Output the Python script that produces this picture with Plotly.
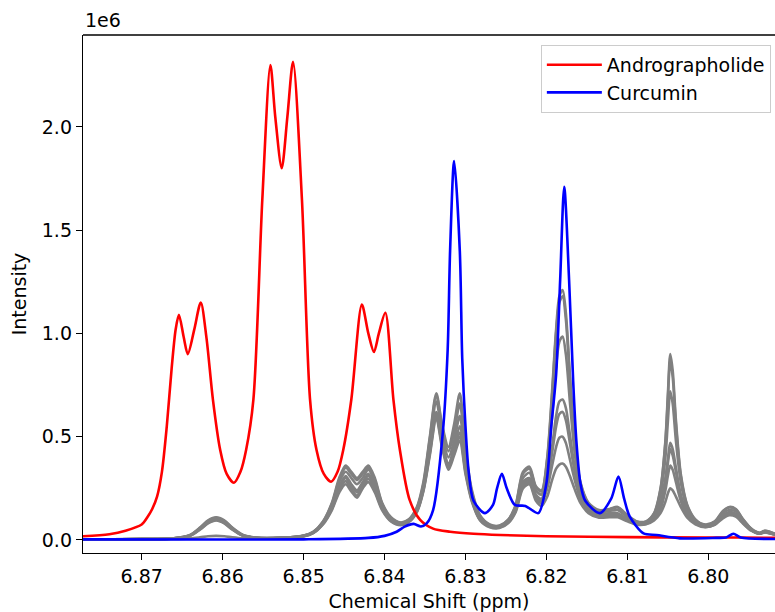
import plotly.graph_objects as go

# ---- Data (intensities in units of 1e6) ----
# Andrographolide (red)
andro_ppm = [6.8773, 6.8740, 6.8720, 6.8700, 6.8693, 6.8687, 6.8681, 6.8675, 6.8669, 6.8663,
             6.8658, 6.8654, 6.8648, 6.8643, 6.8635, 6.8627, 6.8620, 6.8612, 6.8603, 6.8595,
             6.8586, 6.8578, 6.8571, 6.8562, 6.8551, 6.8541, 6.8535, 6.8527, 6.8520, 6.8513,
             6.8502, 6.8492, 6.8484, 6.8475, 6.8466, 6.8458, 6.8451, 6.8441, 6.8428, 6.8420,
             6.8413, 6.8407, 6.8399, 6.8389, 6.8381, 6.8369, 6.8356, 6.8340, 6.8319, 6.8290,
             6.8257, 6.8200, 6.8100, 6.8000, 6.7960, 6.7912]
andro_int = [0.018, 0.028, 0.045, 0.075, 0.11, 0.15, 0.21, 0.33, 0.55, 0.83,
             1.02, 1.09, 0.98, 0.90, 1.02, 1.15, 0.98, 0.68, 0.436, 0.32,
             0.277, 0.33, 0.436, 0.68, 1.646, 2.30, 2.05, 1.80, 2.05, 2.315,
             1.646, 0.68, 0.436, 0.32, 0.282, 0.33, 0.436, 0.68, 1.14, 1.0,
             0.91, 1.0, 1.10, 0.68, 0.436, 0.194, 0.097, 0.055, 0.04, 0.03,
             0.024, 0.018, 0.014, 0.012, 0.012, 0.01]

# Curcumin (blue)
curc_ppm = [6.8773, 6.8600, 6.8500, 6.8420, 6.8400, 6.8385, 6.8375, 6.8364, 6.8355, 6.8348,
            6.8340, 6.8328, 6.8322, 6.8319, 6.8314, 6.8307, 6.8304, 6.8300, 6.8296, 6.8290,
            6.8276, 6.8266, 6.8261, 6.8255, 6.8249, 6.8239, 6.8226, 6.8210, 6.8200, 6.8194,
            6.8188, 6.8183, 6.8178, 6.8172, 6.8167, 6.8163, 6.8158, 6.8152, 6.8134, 6.8120,
            6.8111, 6.8104, 6.8097, 6.8080, 6.8064, 6.8035, 6.7990, 6.7978, 6.7969, 6.7960,
            6.7912]
curc_int = [0.003, 0.002, 0.003, 0.01, 0.02, 0.04, 0.065, 0.078, 0.065, 0.08,
            0.145, 0.52, 0.92, 1.40, 1.835, 1.40, 0.88, 0.55, 0.33, 0.19,
            0.13, 0.17, 0.25, 0.32, 0.25, 0.17, 0.165, 0.13, 0.275, 0.55,
            0.80, 1.26, 1.71, 1.26, 0.775, 0.48, 0.275, 0.19, 0.13, 0.20,
            0.307, 0.20, 0.113, 0.032, 0.024, 0.008, 0.01, 0.012, 0.03, 0.012,
            0.005]

# Mixture spectra (grey), shared chemical shift grid
mix_ppm = [6.8773, 6.8700, 6.8660, 6.8640, 6.8628, 6.8618, 6.8608, 6.8598, 6.8588, 6.8575,
           6.8560, 6.8530, 6.8500, 6.8488, 6.8476, 6.8465, 6.8456, 6.8448, 6.8441, 6.8434,
           6.8427, 6.8420, 6.8412, 6.8403, 6.8392, 6.8380, 6.8370, 6.8360, 6.8352, 6.8344,
           6.8336, 6.8329, 6.8321, 6.8314, 6.8307, 6.8300, 6.8292, 6.8282, 6.8270, 6.8258,
           6.8247, 6.8238, 6.8229, 6.8221, 6.8213, 6.8206, 6.8199, 6.8193, 6.8188, 6.8184,
           6.8180, 6.8176, 6.8171, 6.8165, 6.8158, 6.8148, 6.8135, 6.8122, 6.8112, 6.8100,
           6.8088, 6.8077, 6.8067, 6.8059, 6.8053, 6.8050, 6.8047, 6.8044, 6.8040, 6.8034,
           6.8026, 6.8016, 6.8004, 6.7992, 6.7982, 6.7974, 6.7966, 6.7957, 6.7947, 6.7937,
           6.7930, 6.7924, 6.7918, 6.7912]

mix_1 = [0.003, 0.004, 0.008, 0.025, 0.06, 0.095, 0.11, 0.095, 0.06, 0.025, 0.012, 0.01, 0.022,
         0.04, 0.09, 0.18, 0.30, 0.36, 0.33, 0.30, 0.33, 0.36, 0.30, 0.18, 0.11,
         0.085, 0.10, 0.16, 0.28, 0.50, 0.71, 0.56, 0.45, 0.56, 0.71, 0.44, 0.24, 0.12, 0.075, 0.07,
         0.10, 0.17, 0.33, 0.355, 0.26, 0.24, 0.40, 0.72, 1.02, 1.18, 1.21, 1.10, 0.80, 0.48, 0.28, 0.18, 0.145, 0.15, 0.16,
         0.12, 0.09, 0.09, 0.13, 0.25, 0.48, 0.70, 0.90, 0.82, 0.58, 0.32, 0.17, 0.10, 0.075, 0.09, 0.14, 0.16, 0.15, 0.10, 0.055, 0.035, 0.045, 0.04, 0.03, 0.025]
mix_2 = [0.003, 0.004, 0.008, 0.024, 0.058, 0.092, 0.107, 0.092, 0.058, 0.024, 0.012, 0.01, 0.021,
         0.039, 0.088, 0.175, 0.29, 0.35, 0.32, 0.29, 0.32, 0.35, 0.29, 0.175, 0.105,
         0.083, 0.098, 0.155, 0.27, 0.49, 0.70, 0.55, 0.43, 0.52, 0.66, 0.42, 0.23, 0.115, 0.073, 0.068,
         0.098, 0.165, 0.32, 0.345, 0.255, 0.235, 0.39, 0.70, 1.00, 1.15, 1.18, 1.07, 0.78, 0.47, 0.275, 0.175, 0.14, 0.148, 0.157,
         0.118, 0.088, 0.088, 0.127, 0.245, 0.47, 0.68, 0.87, 0.79, 0.56, 0.31, 0.165, 0.098, 0.073, 0.088, 0.137, 0.157, 0.147, 0.098, 0.054, 0.034, 0.044, 0.039, 0.03, 0.025]
mix_3 = [0.003, 0.004, 0.008, 0.023, 0.056, 0.09, 0.104, 0.09, 0.056, 0.023, 0.011, 0.01, 0.02,
         0.037, 0.085, 0.17, 0.28, 0.33, 0.30, 0.27, 0.30, 0.34, 0.28, 0.17, 0.10,
         0.08, 0.095, 0.15, 0.26, 0.47, 0.67, 0.52, 0.40, 0.48, 0.60, 0.38, 0.215, 0.11, 0.07, 0.066,
         0.095, 0.16, 0.30, 0.325, 0.24, 0.22, 0.36, 0.60, 0.84, 0.96, 0.985, 0.90, 0.67, 0.42, 0.25, 0.165, 0.135, 0.14, 0.145,
         0.11, 0.085, 0.085, 0.12, 0.22, 0.40, 0.57, 0.72, 0.66, 0.48, 0.28, 0.15, 0.092, 0.07, 0.085, 0.13, 0.145, 0.138, 0.094, 0.052, 0.033, 0.042, 0.037, 0.029, 0.024]
mix_4 = [0.003, 0.004, 0.008, 0.022, 0.054, 0.086, 0.10, 0.086, 0.054, 0.022, 0.011, 0.01, 0.02,
         0.036, 0.082, 0.16, 0.26, 0.31, 0.27, 0.24, 0.28, 0.32, 0.26, 0.16, 0.098,
         0.078, 0.092, 0.145, 0.25, 0.44, 0.62, 0.48, 0.37, 0.45, 0.55, 0.35, 0.20, 0.105, 0.068, 0.064,
         0.09, 0.15, 0.28, 0.30, 0.22, 0.20, 0.30, 0.45, 0.60, 0.67, 0.68, 0.64, 0.51, 0.35, 0.23, 0.155, 0.125, 0.13, 0.13,
         0.10, 0.08, 0.082, 0.11, 0.18, 0.30, 0.39, 0.47, 0.44, 0.35, 0.22, 0.13, 0.085, 0.066, 0.08, 0.12, 0.135, 0.128, 0.088, 0.05, 0.032, 0.04, 0.035, 0.028, 0.023]
mix_5 = [0.002, 0.004, 0.008, 0.021, 0.052, 0.083, 0.097, 0.083, 0.052, 0.021, 0.011, 0.01, 0.019,
         0.035, 0.08, 0.155, 0.25, 0.30, 0.26, 0.23, 0.27, 0.31, 0.25, 0.155, 0.095,
         0.076, 0.09, 0.14, 0.245, 0.43, 0.61, 0.47, 0.36, 0.43, 0.52, 0.34, 0.195, 0.10, 0.066, 0.062,
         0.088, 0.145, 0.27, 0.29, 0.21, 0.19, 0.28, 0.42, 0.55, 0.61, 0.62, 0.58, 0.47, 0.33, 0.22, 0.15, 0.12, 0.125, 0.125,
         0.098, 0.078, 0.08, 0.105, 0.17, 0.28, 0.37, 0.44, 0.41, 0.33, 0.21, 0.125, 0.082, 0.065, 0.078, 0.115, 0.13, 0.123, 0.085, 0.048, 0.031, 0.039, 0.034, 0.027, 0.022]
mix_6 = [0.002, 0.004, 0.007, 0.02, 0.05, 0.08, 0.094, 0.08, 0.05, 0.02, 0.01, 0.009, 0.018,
         0.034, 0.078, 0.15, 0.24, 0.285, 0.245, 0.215, 0.26, 0.295, 0.24, 0.15, 0.092,
         0.074, 0.088, 0.138, 0.24, 0.42, 0.60, 0.46, 0.35, 0.42, 0.50, 0.33, 0.19, 0.098, 0.064, 0.06,
         0.085, 0.14, 0.26, 0.28, 0.20, 0.18, 0.25, 0.36, 0.45, 0.495, 0.50, 0.47, 0.39, 0.29, 0.20, 0.14, 0.115, 0.118, 0.118,
         0.094, 0.076, 0.078, 0.10, 0.15, 0.24, 0.31, 0.36, 0.34, 0.28, 0.19, 0.117, 0.079, 0.063, 0.075, 0.11, 0.125, 0.118, 0.082, 0.047, 0.03, 0.038, 0.033, 0.026, 0.022]
mix_7 = [0.002, 0.004, 0.005, 0.008, 0.013, 0.018, 0.02, 0.018, 0.013, 0.008, 0.006, 0.008, 0.017,
         0.033, 0.075, 0.145, 0.23, 0.27, 0.235, 0.205, 0.25, 0.28, 0.23, 0.145, 0.09,
         0.072, 0.086, 0.135, 0.235, 0.41, 0.59, 0.45, 0.34, 0.41, 0.48, 0.32, 0.185, 0.095, 0.062, 0.058,
         0.082, 0.135, 0.25, 0.27, 0.19, 0.165, 0.21, 0.29, 0.345, 0.365, 0.37, 0.355, 0.31, 0.245, 0.18, 0.13, 0.108, 0.11, 0.11,
         0.09, 0.074, 0.076, 0.095, 0.13, 0.185, 0.225, 0.25, 0.24, 0.21, 0.16, 0.108, 0.076, 0.062, 0.073, 0.105, 0.12, 0.113, 0.079, 0.045, 0.03, 0.037, 0.032, 0.025, 0.021]

mixtures = [mix_1, mix_2, mix_3, mix_4, mix_5, mix_6, mix_7]

x_ticks = [6.87, 6.86, 6.85, 6.84, 6.83, 6.82, 6.81, 6.80]
y_ticks = [0.0, 0.5, 1.0, 1.5, 2.0]

FONT = "DejaVu Sans"
FS = 19
LW = 2.6

fig = go.Figure()
for m in mixtures:
    fig.add_trace(go.Scatter(x=mix_ppm, y=m, mode="lines",
                             line=dict(color="#808080", width=LW, shape="spline", smoothing=0.8),
                             showlegend=False, hoverinfo="skip"))
fig.add_trace(go.Scatter(x=andro_ppm, y=andro_int, mode="lines", name="Andrographolide",
                         line=dict(color="#ff0000", width=LW, shape="spline", smoothing=0.8)))
fig.add_trace(go.Scatter(x=curc_ppm, y=curc_int, mode="lines", name="Curcumin",
                         line=dict(color="#0000ff", width=LW, shape="spline", smoothing=0.8)))

fig.update_layout(
    width=775, height=612,
    margin=dict(l=83, r=0, t=35, b=59),
    paper_bgcolor="white", plot_bgcolor="white",
    font=dict(family=FONT, size=FS, color="black"),
    legend=dict(x=0.994, y=0.981, xanchor="right", yanchor="top",
                bgcolor="rgba(255,255,255,0.8)", bordercolor="#cccccc", borderwidth=1,
                font=dict(size=FS), tracegroupgap=0, itemwidth=55),
    xaxis=dict(range=[6.87725, 6.79176], tickvals=x_ticks, tickformat=".2f",
               showgrid=False, zeroline=False, showline=True, linecolor="black", linewidth=1.4,
               ticks="outside", ticklen=6, tickwidth=1.4, tickcolor="black",
               tickfont=dict(size=FS),
               title=dict(text="Chemical Shift (ppm)", standoff=8, font=dict(size=FS))),
    yaxis=dict(range=[-0.063, 2.445], tickvals=y_ticks, tickformat=".1f",
               showgrid=False, zeroline=False, showline=True, linecolor="black", linewidth=1.4,
               ticks="outside", ticklen=6, tickwidth=1.4, tickcolor="black",
               tickfont=dict(size=FS),
               title=dict(text="Intensity", standoff=10, font=dict(size=FS))),
    shapes=[dict(type="line", xref="paper", yref="paper", x0=0, x1=1, y0=1, y1=1,
                 line=dict(color="black", width=1.4))],
    annotations=[dict(text="1e6", xref="paper", yref="paper", x=0, y=1,
                      xanchor="left", yanchor="bottom", yshift=2, showarrow=False,
                      font=dict(size=FS))],
)

fig.write_html("out.html")
